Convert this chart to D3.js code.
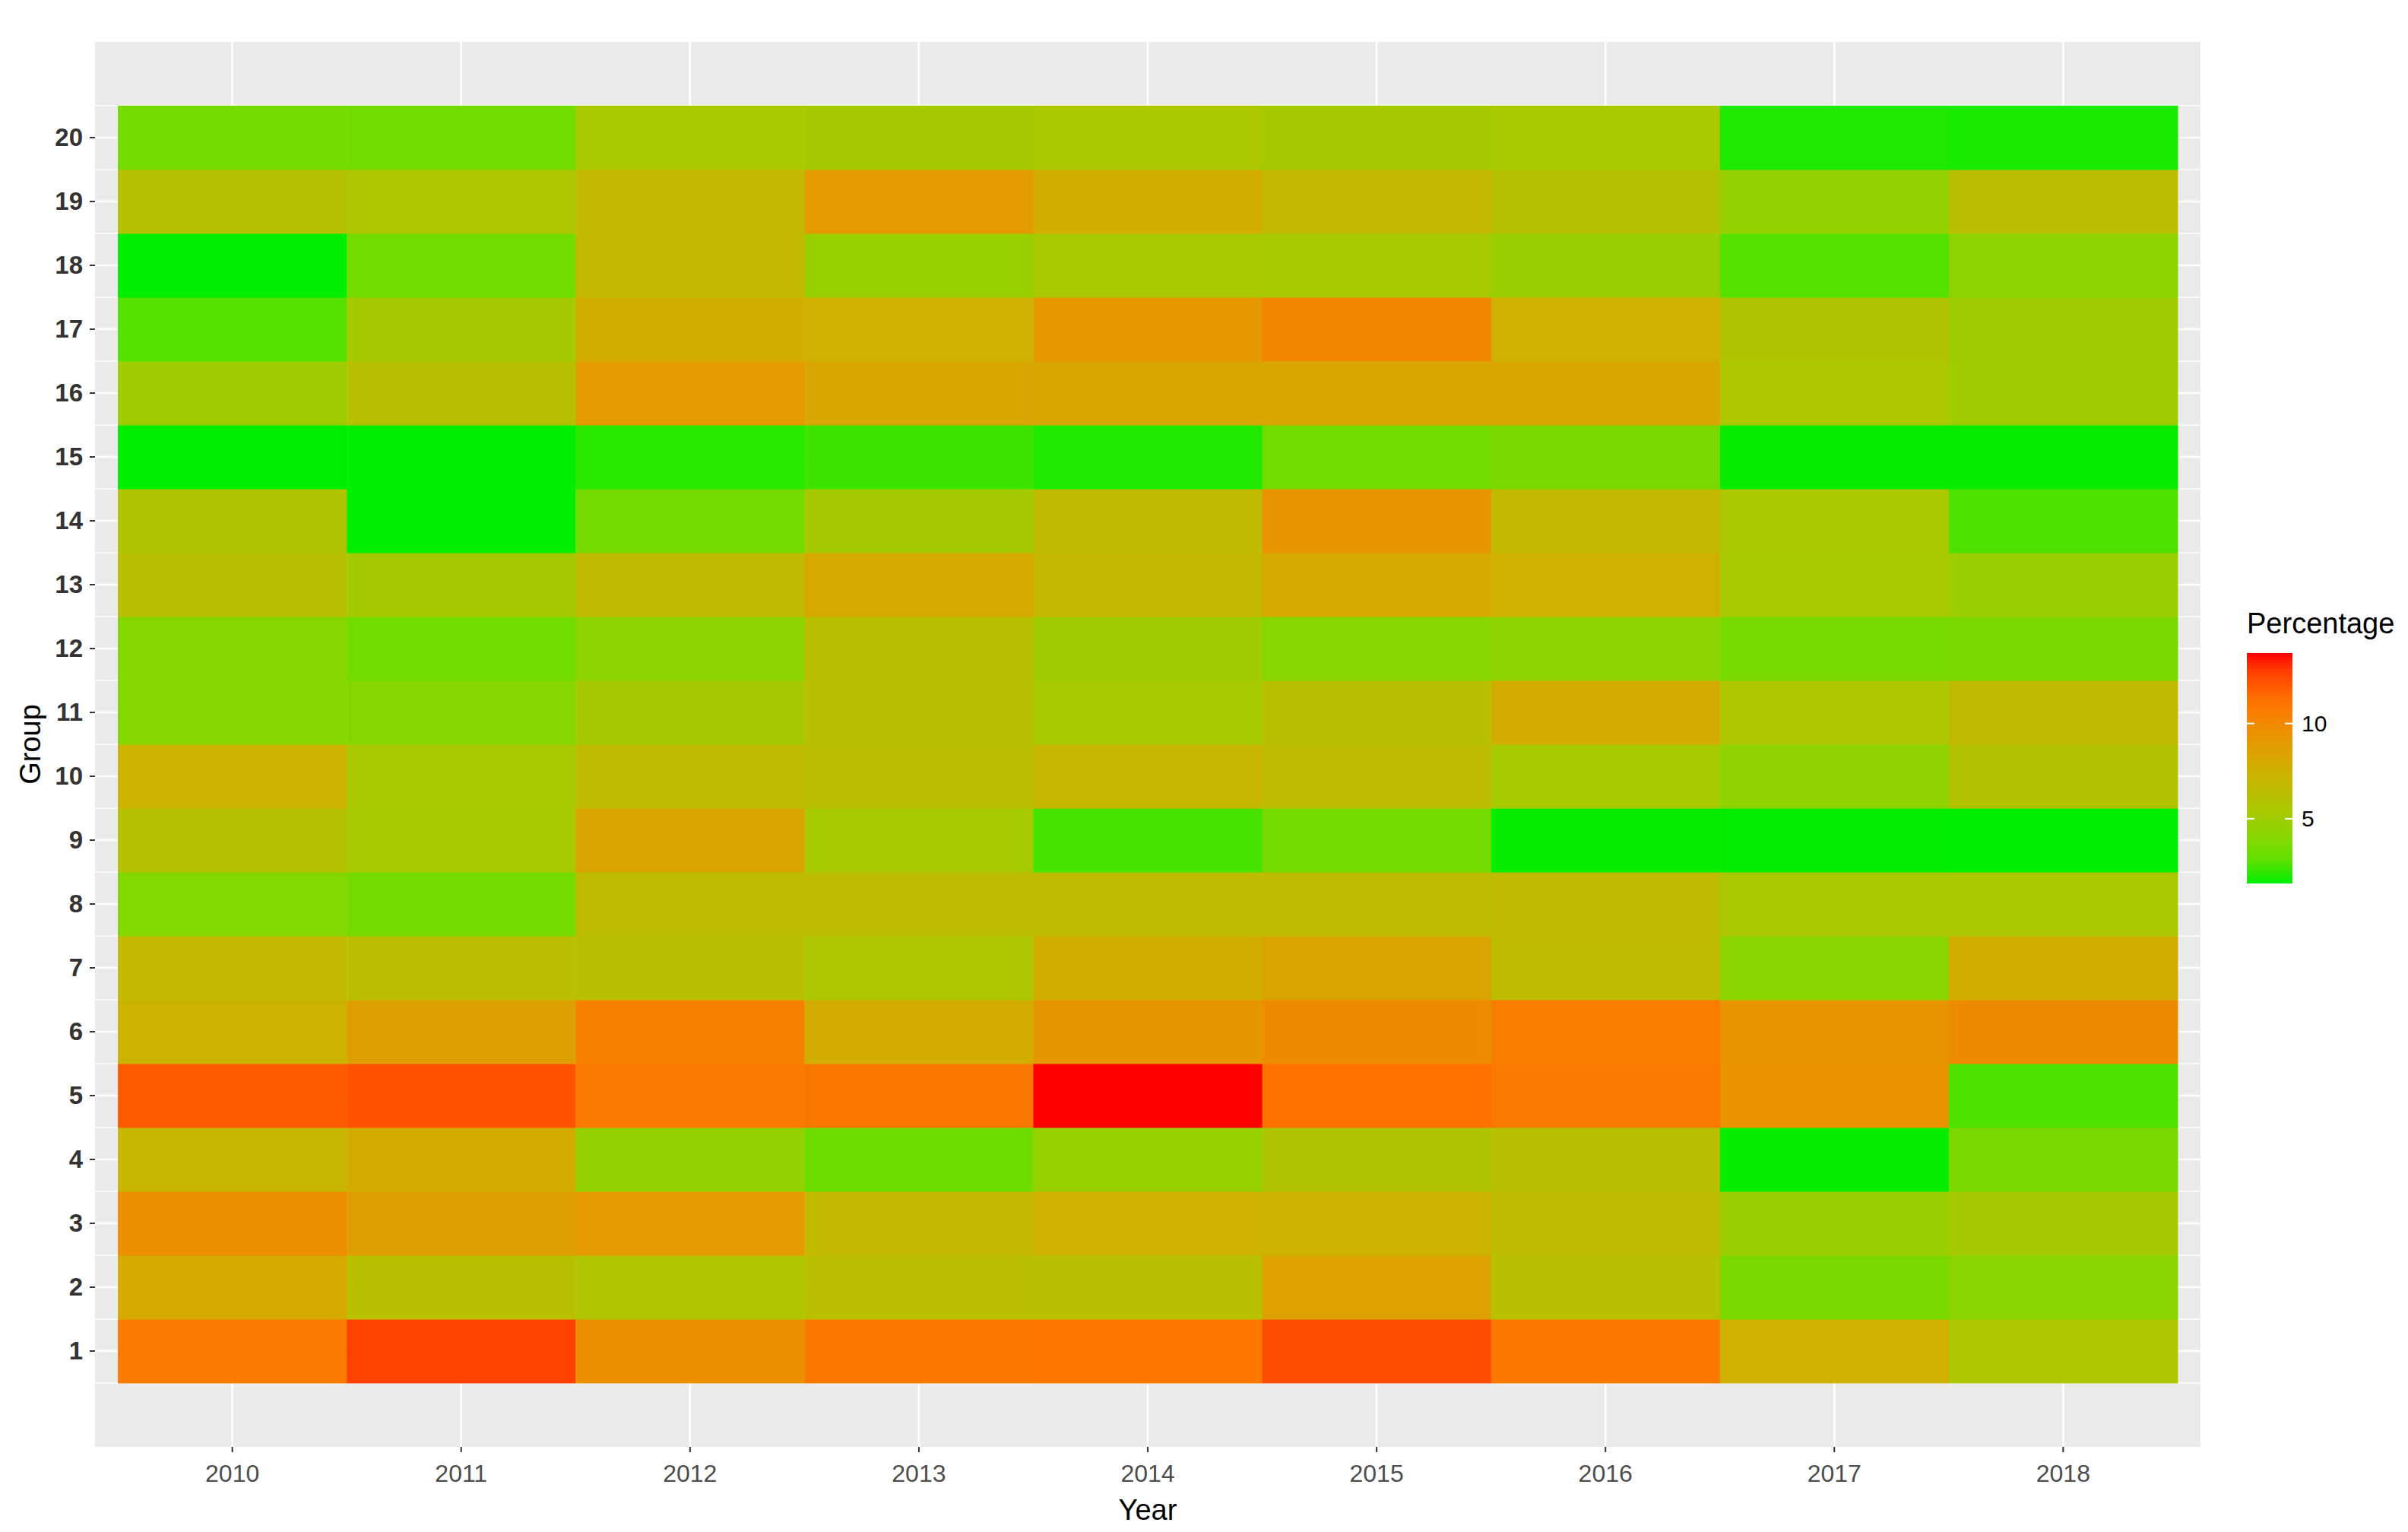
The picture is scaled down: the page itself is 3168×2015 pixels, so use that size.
<html>
<head>
<script src="https://d3js.org/d3.v7.min.js"></script>
<style>
body{margin:0;background:#fff;}
text{font-family:"Liberation Sans",Arial,sans-serif;}
</style>
</head>
<body>
<div id="chart"></div>
<script>
// years along x, groups along y
var years=["2010","2011","2012","2013","2014","2015","2016","2017","2018"];
var groups=[1,2,3,4,5,6,7,8,9,10,11,12,13,14,15,16,17,18,19,20];

// percentage per group (1..20) for each year
var p2010=[10.8,8.0,9.6,7.1,11.9,7.3,6.8,3.9,6.0,7.3,4.0,4.0,6.1,5.8,1.6,5.0,2.7,1.6,6.0,3.5];
var p2011=[12.7,6.2,8.6,7.8,12.1,8.6,6.3,3.5,5.3,5.4,4.0,3.4,5.2,1.6,1.6,6.1,5.2,3.4,5.6,3.4];
var p2012=[9.6,5.7,8.9,4.6,10.8,10.4,6.1,6.4,8.3,6.5,5.2,4.3,6.6,3.5,2.1,8.9,7.7,6.8,6.8,5.4];
var p2013=[10.9,6.3,6.8,3.3,10.9,7.8,5.6,6.4,5.3,6.3,6.2,6.2,8.0,5.2,2.4,8.2,7.6,4.7,8.9,5.2];
var p2014=[11.0,6.2,7.5,4.7,13.7,9.2,7.7,6.5,2.5,7.0,5.3,5.0,6.8,6.6,2.0,8.2,9.1,5.4,7.7,5.5];
var p2015=[12.3,8.5,7.3,5.8,11.2,9.8,8.3,6.5,3.5,6.4,6.1,4.1,8.0,9.3,3.4,8.2,10.0,5.3,6.8,5.2];
var p2016=[10.9,6.2,6.4,6.1,10.8,10.6,6.4,6.6,1.7,5.3,7.8,4.3,7.5,6.8,3.7,8.2,7.5,4.8,6.0,5.4];
var p2017=[7.5,3.7,4.8,1.7,9.4,9.3,4.2,5.5,1.65,4.4,5.6,3.6,5.4,5.5,1.7,5.6,5.8,2.7,4.6,2.0];
var p2018=[5.6,4.2,5.2,3.7,2.6,9.8,7.7,5.5,1.6,5.9,6.6,3.7,4.8,2.6,1.7,5.0,5.0,4.3,6.3,1.9];

var legendTicks=[5,10];

// green -> red ramp (fraction of data range -> colour)
var rampStops=[0,0.1,0.2,0.3,0.4,0.5,0.6,0.7,0.8,0.85,0.92,1];
var rampColors=["#00EE00","#5FE000","#86D600","#A6CB00","#BDBD00","#D0AE00","#E29C00","#F28800","#FF7000","#FF5A00","#FF4000","#FF0000"];

var columns=[p2010,p2011,p2012,p2013,p2014,p2015,p2016,p2017,p2018];
var cells=[];
for(var i=0;i<years.length;i++){
	for(var j=0;j<groups.length;j++){
		cells.push({"year":years[i],"group":groups[j],"value":columns[i][j]});
	}
}

var W=3168, H=2015;
var panel={left:125, right:2895, top:55, bottom:1903};

var svg=d3.select("#chart").append("svg")
	.attr("width",W).attr("height",H);

// panel background
svg.append("rect")
	.attr("x",panel.left).attr("y",panel.top)
	.attr("width",panel.right-panel.left).attr("height",panel.bottom-panel.top)
	.attr("fill","#EBEBEB");

var x=d3.scaleBand()
	.domain(years)
	.range([panel.left,panel.right])
	.paddingInner(0).paddingOuter(0.1);

var y=d3.scaleBand()
	.domain(groups.slice().reverse())
	.range([panel.top,panel.bottom])
	.paddingInner(0).paddingOuter(1);

var ext=d3.extent(cells,d=>d.value);
var color=d3.scaleLinear()
	.domain(rampStops.map(s=>ext[0]+s*(ext[1]-ext[0])))
	.range(rampColors)
	.interpolate(d3.interpolateRgb);

// grid: minor at group edges, major at group centres and year centres
var minorY=[];
groups.forEach(g=>{minorY.push(y(g)); });
minorY.push(y(1)+y.bandwidth());

svg.append("g").selectAll("line").data(minorY).enter().append("line")
	.attr("x1",panel.left).attr("x2",panel.right)
	.attr("y1",d=>d).attr("y2",d=>d)
	.attr("stroke","#fff").attr("stroke-width",1.5);

svg.append("g").selectAll("line").data(groups).enter().append("line")
	.attr("x1",panel.left).attr("x2",panel.right)
	.attr("y1",d=>y(d)+y.bandwidth()/2).attr("y2",d=>y(d)+y.bandwidth()/2)
	.attr("stroke","#fff").attr("stroke-width",2.5);

svg.append("g").selectAll("line").data(years).enter().append("line")
	.attr("y1",panel.top).attr("y2",panel.bottom)
	.attr("x1",d=>x(d)+x.bandwidth()/2).attr("x2",d=>x(d)+x.bandwidth()/2)
	.attr("stroke","#fff").attr("stroke-width",2.5);

// tiles
svg.append("g").selectAll("rect").data(cells).enter().append("rect")
	.attr("x",d=>x(d.year))
	.attr("y",d=>y(d.group))
	.attr("width",x.bandwidth()+0.5)
	.attr("height",y.bandwidth()+0.5)
	.attr("fill",d=>color(d.value));

// axes
var xAxis=svg.append("g")
	.attr("transform","translate(0,"+panel.bottom+")")
	.call(d3.axisBottom(x).tickSize(7).tickPadding(16));
xAxis.select(".domain").remove();
xAxis.selectAll("line").attr("stroke","#333").attr("stroke-width",2);
xAxis.selectAll("text").attr("font-size",32).attr("fill","#4D4D4D")
	.style("font-family","'Liberation Sans',Arial,sans-serif");

var yAxis=svg.append("g")
	.attr("transform","translate("+panel.left+",0)")
	.call(d3.axisLeft(y).tickSize(7).tickPadding(9));
yAxis.select(".domain").remove();
yAxis.selectAll("line").attr("stroke","#333").attr("stroke-width",2);
yAxis.selectAll("text").attr("font-size",33).attr("fill","#333")
	.attr("font-weight","bold")
	.style("font-family","'Liberation Sans',Arial,sans-serif");

// axis titles
svg.append("text")
	.attr("x",(panel.left+panel.right)/2).attr("y",1999)
	.attr("text-anchor","middle").attr("font-size",38).attr("fill","#000")
	.text("Year");

svg.append("text")
	.attr("transform","translate(53,"+((panel.top+panel.bottom)/2)+") rotate(-90)")
	.attr("text-anchor","middle").attr("font-size",38).attr("fill","#000")
	.text("Group");

// legend colourbar
var bar={x:2956, y:859, w:60, h:303};
var ly=d3.scaleLinear().domain(ext).range([bar.y+bar.h,bar.y]);

var defs=svg.append("defs");
var grad=defs.append("linearGradient").attr("id","pctgrad")
	.attr("x1","0").attr("y1","1").attr("x2","0").attr("y2","0");
var nStops=40;
for(var k=0;k<=nStops;k++){
	var v=ext[0]+(ext[1]-ext[0])*k/nStops;
	grad.append("stop").attr("offset",(k/nStops*100)+"%").attr("stop-color",color(v));
}

svg.append("text")
	.attr("x",bar.x).attr("y",833)
	.attr("font-size",38).attr("fill","#000")
	.text("Percentage");

svg.append("rect")
	.attr("x",bar.x).attr("y",bar.y).attr("width",bar.w).attr("height",bar.h)
	.attr("fill","url(#pctgrad)");

var lt=svg.append("g").selectAll("g").data(legendTicks).enter().append("g");
lt.append("line").attr("x1",bar.x).attr("x2",bar.x+10)
	.attr("y1",d=>ly(d)).attr("y2",d=>ly(d)).attr("stroke","#fff").attr("stroke-width",2);
lt.append("line").attr("x1",bar.x+bar.w-10).attr("x2",bar.x+bar.w)
	.attr("y1",d=>ly(d)).attr("y2",d=>ly(d)).attr("stroke","#fff").attr("stroke-width",2);
lt.append("text").attr("x",bar.x+bar.w+12).attr("y",d=>ly(d)).attr("dy","0.35em")
	.attr("font-size",30).attr("fill","#000")
	.text(d=>d);
</script>
</body>
</html>
